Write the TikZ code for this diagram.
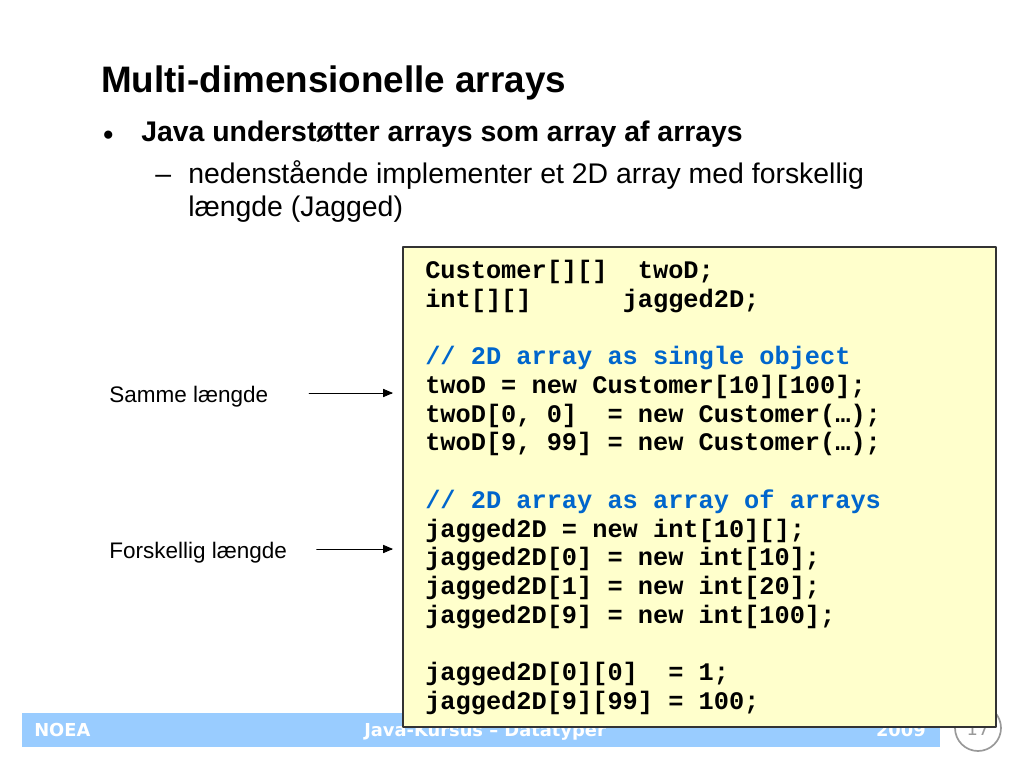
\documentclass[tikz,border=0pt]{standalone}
\usepackage{fontspec}
\setmainfont{Liberation Sans}
\newfontfamily\kodefont{Liberation Mono}
\newfontfamily\fodfont{DejaVu Sans}
\usetikzlibrary{arrows}
\definecolor{fodblaa}{HTML}{99CCFF}
\definecolor{kodegul}{HTML}{FFFFCC}
\definecolor{kommentar}{HTML}{0066CC}
\definecolor{sidegraa}{HTML}{999999}
\newcommand{\kom}[1]{\textcolor{kommentar}{#1}}
\tikzset{
  tekst/.style={inner sep=0pt, anchor=base west},
  fod/.style={inner sep=0pt, text=white, font=\fodfont\bfseries\fontsize{12.7}{15}\selectfont},
  pil/.style={->, >=triangle 45, line width=0.6pt},
}

\begin{document}
\begin{tikzpicture}[line cap=round,line join=round,x=0.025cm,y=-0.025cm]
\useasboundingbox (0,0) rectangle (1024,768);

% footer
\fill[fodblaa] (22,713) rectangle (940,747);
\node[fod, anchor=base west] (noea) at (34,736) {NOEA};
\node[fod, anchor=base west] (kursus) at (364,736) {Java-Kursus – Datatyper};
\node[fod, anchor=base east] (aar) at (926,736) {2009};
\draw[sidegraa, line width=1.2pt, fill=white] (978,728) circle (23);
\node[inner sep=0pt, text=sidegraa, font=\fodfont\fontsize{12.7}{15}\selectfont] (side) at (978,729) {17};

% code box (base = last line)
\draw[fill=kodegul, line width=0.8pt, draw=black!80] (403,247) rectangle (996,727);
\node[tekst, align=left, font=\kodefont\bfseries\fontsize{18}{20.43}\selectfont] (kode) at (425,709.5) {%
Customer[][]~~twoD;\\
int[][]~~~~~~jagged2D;\\
\mbox{}\\
\kom{// 2D array as single object}\\
twoD = new Customer[10][100];\\
twoD[0, 0]~~= new Customer(…);\\
twoD[9, 99] = new Customer(…);\\
\mbox{}\\
\kom{// 2D array as array of arrays}\\
jagged2D = new int[10][];\\
jagged2D[0] = new int[10];\\
jagged2D[1] = new int[20];\\
jagged2D[9] = new int[100];\\
\mbox{}\\
jagged2D[0][0]~~= 1;\\
jagged2D[9][99] = 100;};

% labels
\node[tekst, font=\fontsize{16}{19}\selectfont] (samme) at (109,402) {Samme længde};
\node[tekst, font=\fontsize{16}{19}\selectfont] (forskellig) at (109,558) {Forskellig længde};
\coordinate (sammepil) at (393,393);
\coordinate (forskelpil) at (393,549);
\draw[pil, shorten <=29pt] (samme.east |- sammepil) -- (sammepil);
\draw[pil, shorten <=21pt] (forskellig.east |- forskelpil) -- (forskelpil);

% title and bullets
\node[tekst, font=\bfseries\fontsize{26.2}{30}\selectfont] (titel) at (101,92.5) {Multi-dimensionelle arrays};
\node[tekst, font=\bfseries\fontsize{20.2}{24}\selectfont] (prik) at (103,145) {•};
\node[tekst, font=\bfseries\fontsize{20.2}{24}\selectfont] (punkt) at (141,142) {Java understøtter arrays som array af arrays};
\node[tekst, font=\fontsize{20.2}{24}\selectfont] (streg) at (155,183.3) {–};
\node[tekst, font=\fontsize{20.2}{24}\selectfont] (under1) at (188,183.3) {nedenstående implementer et 2D array med forskellig};
\node[tekst, font=\fontsize{20.2}{24}\selectfont] (under2) at (188,216.8) {længde (Jagged)};
\end{tikzpicture}
\end{document}
